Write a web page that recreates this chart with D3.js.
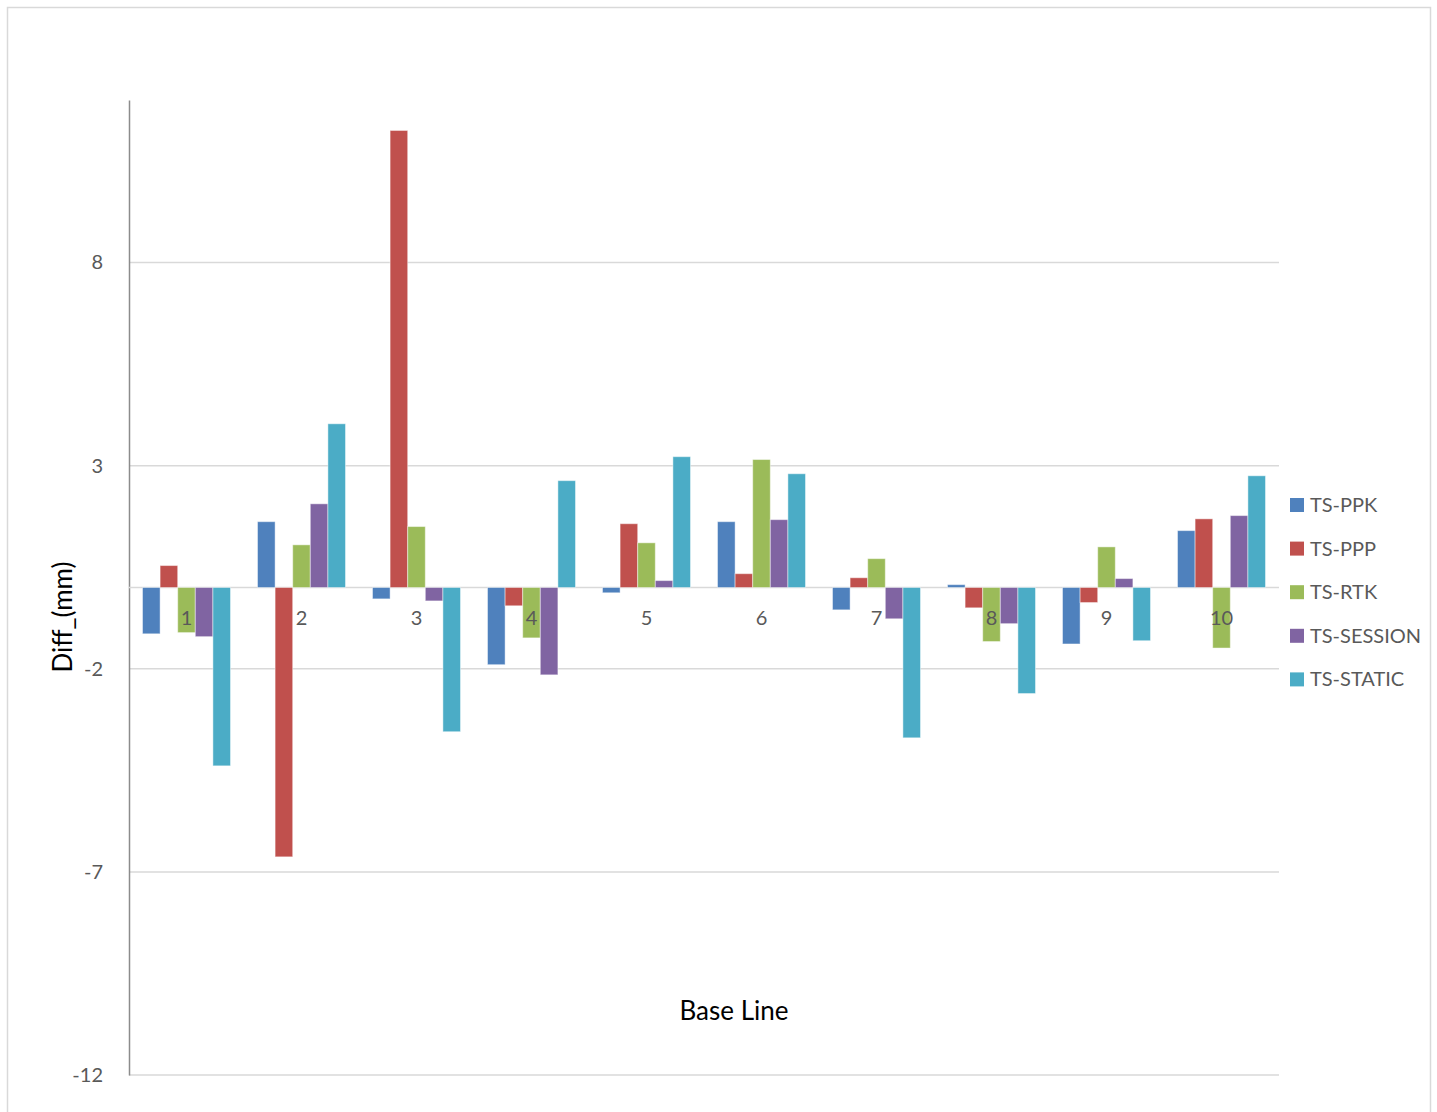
<!DOCTYPE html>
<html>
<head>
<meta charset="utf-8">
<script src="https://cdn.jsdelivr.net/npm/d3@7/dist/d3.min.js"></script>
<style>
  html, body { margin: 0; padding: 0; background: #fff; }
  svg { display: block; }
  text { font-family: "Lato", "Open Sans", sans-serif; }
</style>
</head>
<body>
<svg id="chart" width="1437" height="1112"></svg>
<script>
// Base line numbers along the category axis
const categories = ["1", "2", "3", "4", "5", "6", "7", "8", "9", "10"];

// Differences (mm) per processing method, one value per base line
const seriesNames = ["TS-PPK", "TS-PPP", "TS-RTK", "TS-SESSION", "TS-STATIC"];
const tsPPK     = [-1.14,  1.62, -0.28, -1.90, -0.13, 1.62, -0.55,  0.07, -1.39,  1.40];
const tsPPP     = [ 0.54, -6.63, 11.25, -0.45,  1.57, 0.34,  0.24, -0.50, -0.37,  1.69];
const tsRTK     = [-1.11,  1.05,  1.50, -1.24,  1.10, 3.15,  0.71, -1.33,  1.00, -1.49];
const tsSESSION = [-1.21,  2.06, -0.33, -2.15,  0.17, 1.67, -0.77, -0.89,  0.22,  1.77];
const tsSTATIC  = [-4.39,  4.03, -3.55,  2.63,  3.22, 2.80, -3.70, -2.61, -1.31,  2.75];
const seriesValues = [tsPPK, tsPPP, tsRTK, tsSESSION, tsSTATIC];

const colors = ["#4f81bd", "#c0504d", "#9bbb59", "#8064a2", "#4bacc6"];
const yTicks = [-12, -7, -2, 3, 8];

const svg = d3.select("#chart");

// Outer frame
svg.append("rect")
  .attr("x", 7.5).attr("y", 7.5)
  .attr("width", 1423).attr("height", 1120)
  .attr("fill", "#fff").attr("stroke", "#d9d9d9").attr("stroke-width", 1.5);

const plot = { left: 129, right: 1279, top: 100, bottom: 1075 };

const x0 = d3.scaleBand()
  .domain(categories)
  .range([plot.left, plot.right])
  .paddingInner(0).paddingOuter(0);

const x1 = d3.scaleBand()
  .domain(seriesNames)
  .range([13.5, x0.bandwidth() - 13.5])
  .padding(0);

const y = d3.scaleLinear()
  .domain([-12, 12])
  .range([plot.bottom, plot.top]);

// Horizontal gridlines
svg.append("g")
  .selectAll("line")
  .data(yTicks)
  .join("line")
  .attr("x1", plot.left).attr("x2", plot.right)
  .attr("y1", d => y(d)).attr("y2", d => y(d))
  .attr("stroke", "#d9d9d9").attr("stroke-width", 1.5);

// Y axis (plain hyphen for negative numbers)
const yAxis = d3.axisLeft(y)
  .tickValues(yTicks)
  .tickFormat(d => String(d))
  .tickSize(0)
  .tickPadding(26);
const gy = svg.append("g").attr("transform", `translate(${plot.left},0)`).call(yAxis);
gy.select(".domain").attr("stroke", "#8c8c8c").attr("stroke-width", 1.5);
gy.selectAll("text")
  .attr("fill", "#595959")
  .style("font-size", "20px")
  .style("font-family", "Lato, 'Open Sans', sans-serif");

// Zero line
svg.append("line")
  .attr("x1", plot.left).attr("x2", plot.right)
  .attr("y1", y(0)).attr("y2", y(0))
  .attr("stroke", "#d9d9d9").attr("stroke-width", 1.5);

// Bars
const groups = svg.append("g")
  .selectAll("g")
  .data(categories)
  .join("g")
  .attr("transform", d => `translate(${x0(d)},0)`);

groups.selectAll("rect")
  .data((d, i) => seriesNames.map((s, k) => ({ s, k, v: seriesValues[k][i] })))
  .join("rect")
  .attr("x", d => x1(d.s))
  .attr("width", x1.bandwidth())
  .attr("y", d => y(Math.max(0, d.v)))
  .attr("height", d => Math.abs(y(d.v) - y(0)))
  .attr("fill", d => colors[d.k])
  .attr("stroke", "rgba(255,255,255,0.45)")
  .attr("stroke-width", 1);

// Category labels sit on the zero line
const xAxis = d3.axisBottom(x0).tickSize(0).tickPadding(23);
const gx = svg.append("g").attr("transform", `translate(0,${y(0)})`).call(xAxis);
gx.select(".domain").remove();
gx.selectAll("text")
  .attr("fill", "#595959")
  .style("font-size", "20px")
  .style("font-family", "Lato, 'Open Sans', sans-serif");

// Axis titles
svg.append("text")
  .attr("x", 734).attr("y", 1020)
  .attr("text-anchor", "middle")
  .attr("fill", "#000")
  .style("font-size", "26px")
  .text("Base Line");

svg.append("text")
  .attr("transform", "translate(72,617) rotate(-90)")
  .attr("text-anchor", "middle")
  .attr("fill", "#000")
  .style("font-size", "26px")
  .text("Diff_(mm)");

// Legend
const legend = svg.append("g")
  .selectAll("g")
  .data(seriesNames)
  .join("g")
  .attr("transform", (d, i) => `translate(1290,${505 + i * 43.6})`);

legend.append("rect")
  .attr("x", 0).attr("y", -7)
  .attr("width", 14).attr("height", 14)
  .attr("fill", (d, i) => colors[i]);

legend.append("text")
  .attr("x", 20).attr("y", 7)
  .attr("fill", "#595959")
  .style("font-size", "20px")
  .text(d => d);
</script>
</body>
</html>
